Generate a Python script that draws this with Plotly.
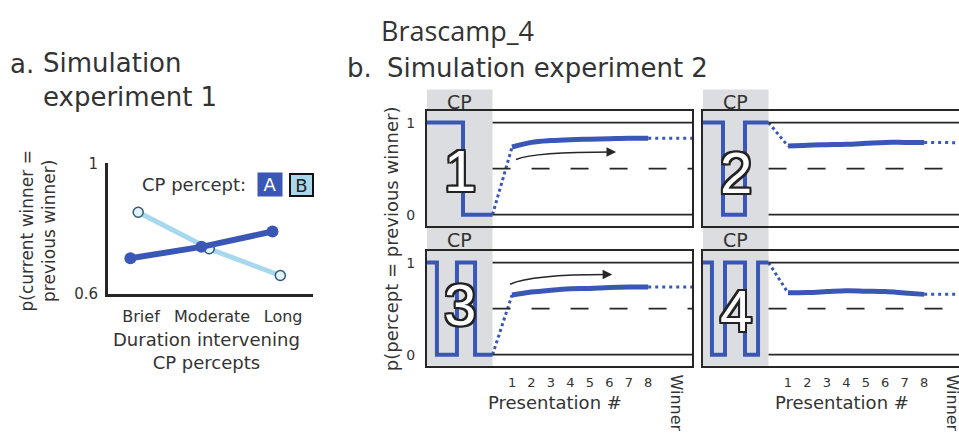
import plotly.graph_objects as go

# ---------------- data ----------------
durations = ["Brief", "Moderate", "Long"]
cp_a_vals = [0.709, 0.744, 0.791]
cp_b_vals = [0.850, 0.738, 0.656]

presentations = [1, 2, 3, 4, 5, 6, 7, 8]
pres_labels = ["1", "2", "3", "4", "5", "6", "7", "8"]
winner_label = "Winner"
winner_pos = 9.45

sc1_vals = [0.735, 0.785, 0.805, 0.815, 0.820, 0.825, 0.830, 0.830]
sc2_vals = [0.745, 0.755, 0.760, 0.765, 0.775, 0.785, 0.785, 0.785]
sc3_vals = [0.648, 0.680, 0.700, 0.715, 0.720, 0.730, 0.735, 0.735]
sc4_vals = [0.672, 0.675, 0.685, 0.695, 0.690, 0.685, 0.670, 0.655]
sc_winner = [0.830, 0.780, 0.735, 0.655]

# CP period (in presentation units) and switch times within it
cp_start, cp_end = -3.37, 0.0
sc1_switch = [-1.52]
sc2_switch = [-2.34, -1.21]
sc3_switch = [-2.86, -1.83, -0.90]
sc4_switch = [-2.91, -2.24, -1.21, -0.54]
chance_level = 0.5
ref_levels = [0, 1]

# ---------------- style ----------------
W, H = 959, 438
FONT = "DejaVu Sans"
BLUE = "#3a57b5"
LIGHT = "#a8d8ee"
INK = "#262626"
GRAY = "#dcdde1"
TXT = "#333333"


def px(x):
    return x / W


def py(y):
    return 1 - y / H


def ann(text, x, y, size, xref="paper", yref="paper", family=FONT, color=TXT, **kw):
    d = dict(text=text, x=x, y=y, xref=xref, yref=yref, showarrow=False,
             xanchor="center", yanchor="middle",
             font=dict(family=family, size=size, color=color))
    d.update(kw)
    return d


fig = go.Figure()

# ---------------- panel a ----------------
xa_off_a, xa_off_b = -0.15, -0.04
fig.add_trace(go.Scatter(
    x=[i + xa_off_b for i in range(len(durations))], y=cp_b_vals,
    mode="lines+markers", line=dict(color=LIGHT, width=5),
    marker=dict(size=10, color="#e2f3fa", line=dict(color="#2f5a78", width=1.5)),
    xaxis="x", yaxis="y", showlegend=False, hoverinfo="skip"))
fig.add_trace(go.Scatter(
    x=[i + xa_off_a for i in range(len(durations))], y=cp_a_vals,
    mode="lines+markers", line=dict(color=BLUE, width=6),
    marker=dict(size=12, color=BLUE),
    xaxis="x", yaxis="y", showlegend=False, hoverinfo="skip"))

# ---------------- panel b ----------------
XR_FULL = [cp_start, 10.25]
XR_CUT = [cp_start, cp_start + (W - 703) / 19.45]
YR = [-0.12, 1.13]

panels = [
    ("x2", "y2", sc1_switch, sc1_vals, sc_winner[0], XR_FULL, [px(427), px(692)], [py(226), py(106)], False, True),
    ("x3", "y3", sc2_switch, sc2_vals, sc_winner[1], XR_CUT, [px(703), 1.0], [py(226), py(106)], False, False),
    ("x4", "y4", sc3_switch, sc3_vals, sc_winner[2], XR_FULL, [px(427), px(692)], [py(372), py(252)], True, True),
    ("x5", "y5", sc4_switch, sc4_vals, sc_winner[3], XR_CUT, [px(703), 1.0], [py(372), py(252)], True, False),
]

shapes = []
annotations = []
layout_axes = {}
OUTLINE = ", ".join(f"{dx}px {dy}px 0 #222" for dx, dy in
                    [(-2, -2), (2, -2), (-2, 2), (2, 2), (0, 2), (2, 0), (0, -2), (-2, 0)])

for idx, (xa, ya, sw, vals, win, xr, xd, yd, bottom, left) in enumerate(panels):
    ys = [1]
    cur = 1
    for _ in sw:
        cur = 1 - cur
        ys.append(cur)
    ys.append(cur)
    xs = [cp_start] + sw + [cp_end]
    fig.add_trace(go.Scatter(x=xs, y=ys, mode="lines", line=dict(color=BLUE, width=4, shape="hv"),
                             xaxis=xa, yaxis=ya, showlegend=False, hoverinfo="skip"))
    fig.add_trace(go.Scatter(x=[cp_end, presentations[0]], y=[cur, vals[0]], mode="lines",
                             line=dict(color=BLUE, width=3, dash="3px,3px"),
                             xaxis=xa, yaxis=ya, showlegend=False, hoverinfo="skip"))
    fig.add_trace(go.Scatter(x=presentations, y=vals, mode="lines",
                             line=dict(color=BLUE, width=5, shape="spline"),
                             xaxis=xa, yaxis=ya, showlegend=False, hoverinfo="skip"))
    fig.add_trace(go.Scatter(x=[presentations[-1], winner_pos, xr[1] + 1], y=[vals[-1], win, win], mode="lines",
                             line=dict(color=BLUE, width=3, dash="3px,4px"),
                             xaxis=xa, yaxis=ya, showlegend=False, hoverinfo="skip"))

    for lv in ref_levels:
        shapes.append(dict(type="line", xref=xa, yref=ya, x0=cp_end, x1=xr[1] + 1, y0=lv, y1=lv,
                           line=dict(color=INK, width=1.6), layer="above"))
    shapes.append(dict(type="line", xref=xa, yref=ya, x0=cp_end, x1=xr[1] + 1, y0=chance_level, y1=chance_level,
                       line=dict(color=INK, width=1.8, dash="18px,21px"), layer="above"))

    frac = (cp_end - xr[0]) / (xr[1] - xr[0])
    gx0 = xd[0]
    gx1 = xd[0] + frac * (xd[1] - xd[0])
    if idx < 2:
        shapes.append(dict(type="rect", xref="paper", yref="paper", x0=gx0, x1=gx1, y0=py(372), y1=py(84),
                           fillcolor=GRAY, line=dict(width=0), layer="below"))
    cx = (gx0 + gx1) / 2
    annotations.append(ann("CP", cx, py(97) if idx < 2 else py(241), 19))
    num_y = [168, 170, 308, 314][idx]
    annotations.append(ann(str(idx + 1), cx, py(num_y), 58, family="Liberation Sans", color="white"))
    annotations[-1]["font"]["shadow"] = OUTLINE

    axn = xa.replace("x", "xaxis")
    ayn = ya.replace("y", "yaxis")
    layout_axes[axn] = dict(domain=xd, range=xr, anchor=ya, showgrid=False, zeroline=False,
                            showline=True, mirror=True, linecolor=INK, linewidth=2,
                            tickvals=presentations if bottom else [], ticktext=pres_labels if bottom else [],
                            ticks="", tickfont=dict(family=FONT, size=13, color=TXT), ticklabelstandoff=4)
    layout_axes[ayn] = dict(domain=yd, range=YR, anchor=xa, showgrid=False, zeroline=False,
                            showline=True, mirror=left, linecolor=INK, linewidth=2,
                            tickvals=[0, 1] if left else [], ticktext=["0", "1"] if left else [],
                            ticks="", tickfont=dict(family=FONT, size=14, color=TXT), ticklabelstandoff=7)

    if bottom:
        annotations.append(ann("Presentation #", px(555) if left else px(842), py(410), 18))
        annotations.append(ann(winner_label, winner_pos, py(379), 16, xref=xa, yanchor="top", textangle=90))

# curved arrows (panels 1 and 3)
arrows = [("x2", "y2", 1.2, 0.60, 2.2, 0.68, 6.1, 0.68),
          ("x4", "y4", 0.9, 0.765, 2.0, 0.87, 5.9, 0.87)]
for xa, ya, x0, y0, qx, qy, x1, y1 in arrows:
    shapes.append(dict(type="path", xref=xa, yref=ya, path=f"M {x0},{y0} Q {qx},{qy} {x1},{y1}",
                       line=dict(color=INK, width=1.6), layer="above"))
    annotations.append(dict(text="", xref=xa, yref=ya, x=x1 + 0.25, y=y1, axref=xa, ayref=ya,
                            ax=x1 - 0.2, ay=y1, showarrow=True, arrowhead=2, arrowsize=1.2,
                            arrowwidth=1.6, arrowcolor=INK))

# ---------------- texts ----------------
annotations += [
    ann("Brascamp_4", px(457), py(22), 27, family="Open Sans"),
    ann("a.", px(8), py(57), 26, xanchor="left"),
    ann("Simulation<br>experiment 1", px(41), py(74), 26, xanchor="left", align="left"),
    ann("b.", px(345), py(62), 26, xanchor="left"),
    ann("Simulation experiment 2", px(385), py(62), 26, xanchor="left"),
    ann("p(current winner =<br>previous winner)", px(38), py(232), 17, textangle=-90),
    ann("Duration intervening<br>CP percepts", px(206), py(357), 18),
    ann("CP percept:", px(194), py(183), 18),
    ann("A", px(270), py(183.5), 18, color="white", width=24, height=23, bgcolor=BLUE, borderpad=0),
    ann("B", px(301), py(183.5), 18, color="#222", width=21, height=20, bgcolor=LIGHT,
        bordercolor="#111", borderwidth=2, borderpad=0),
    ann("p(percept = previous winner)", px(391), py(240), 18, textangle=-90),
]

fig.update_layout(
    width=W, height=H, autosize=False,
    margin=dict(l=0, r=0, t=0, b=0),
    paper_bgcolor="white", plot_bgcolor="rgba(0,0,0,0)",
    xaxis=dict(domain=[px(108), px(313)], range=[-0.465, 2.42], anchor="y", showgrid=False, zeroline=False,
               showline=True, linecolor=INK, linewidth=3, tickvals=[0, 1, 2], ticktext=durations, ticks="",
               tickfont=dict(family=FONT, size=16, color=TXT), ticklabelstandoff=6),
    yaxis=dict(domain=[py(297), py(161)], range=[0.6, 1.0], anchor="x", showgrid=False, zeroline=False,
               showline=True, linecolor=INK, linewidth=3, tickvals=[0.6, 1.0], ticktext=["0.6", "1"],
               ticks="inside", ticklen=5, tickwidth=3, tickcolor=INK,
               tickfont=dict(family=FONT, size=15, color=TXT), ticklabelstandoff=4),
    shapes=shapes,
    annotations=annotations,
    **layout_axes,
)

fig.write_html("out.html", config={"displayModeBar": False},
               post_script="document.body.style.margin='0';document.body.style.overflow='hidden';")
